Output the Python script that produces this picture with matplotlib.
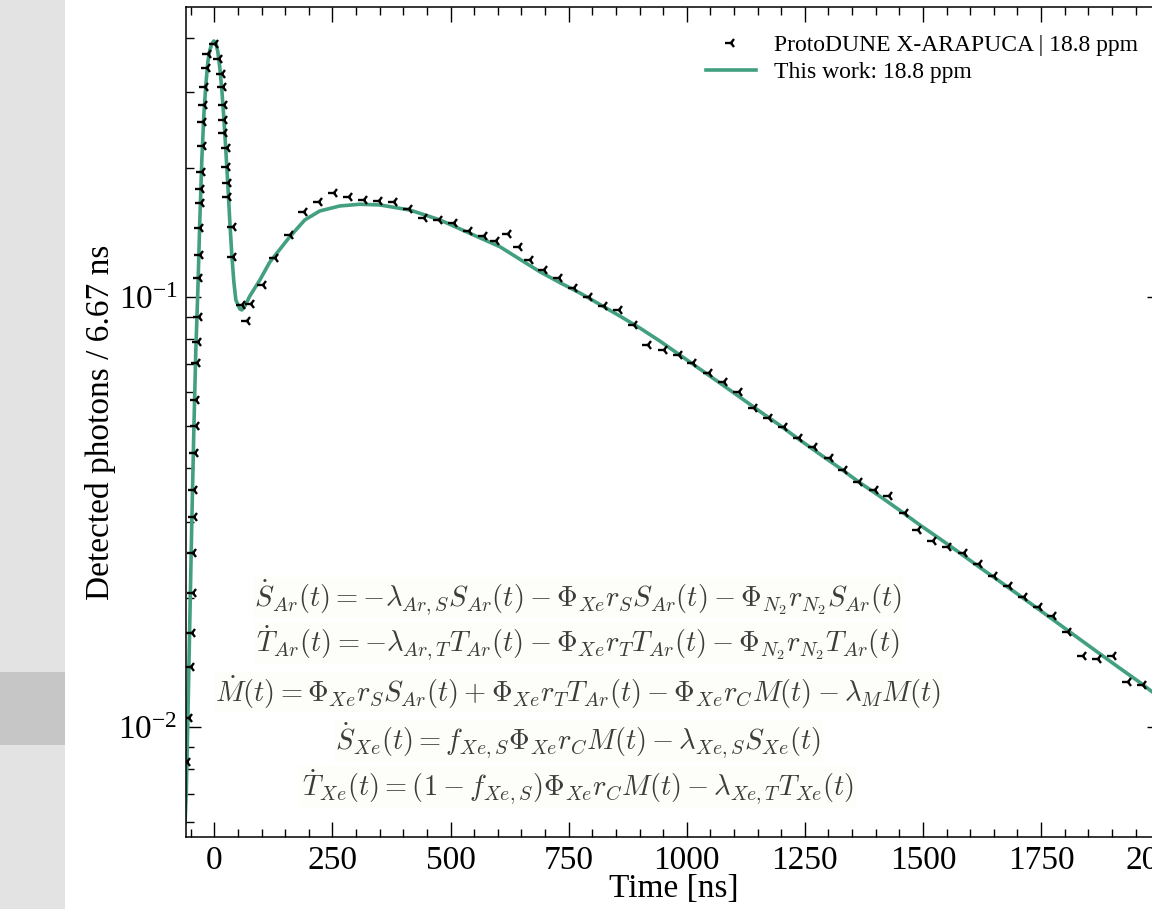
import matplotlib
matplotlib.use("Agg")
import matplotlib.pyplot as plt
from matplotlib.patches import Rectangle
from matplotlib.ticker import LogLocator, MultipleLocator

# ProtoDUNE X-ARAPUCA waveform (18.8 ppm Xe)
data_t = [-58.2, -54.0, -49.7, -47.6, -45.5, -44.5, -43.4, -42.3, -41.3, -39.2,
          -38.1, -37.0, -34.9, -32.8, -32.2, -30.7, -29.6, -28.6, -27.5, -26.5,
          -25.0, -23.7, -22.7, -20.1, -16.5, -14.4, 1.1, 10.2, 15.2, 17.4,
          20.1, 20.7, 21.2, 25.8, 26.2, 29.2, 29.6, 38.5, 39.8, 57.6,
          68.2, 76.6, 103.3, 128.7, 160.5, 190.1, 221.2, 253.0, 285.1, 317.1,
          348.6, 380.6, 412.4, 444.8, 475.9, 507.0, 538.7, 570.5, 595.9, 621.9,
          645.2, 667.9, 698.1, 729.3, 761.6, 793.4, 824.5, 856.3, 888.7, 918.3,
          951.5, 983.9, 1013.5, 1046.8, 1078.5, 1110.3, 1142.0, 1174.0, 1205.9, 1237.7,
          1269.1, 1303.1, 1333.4, 1364.9, 1398.2, 1427.8, 1461.7, 1489.8, 1521.6, 1552.1,
          1587.2, 1619.0, 1650.1, 1682.5, 1714.2, 1745.3, 1774.3, 1806.1, 1839.1, 1869.6,
          1902.6, 1934.4, 1966.1]
data_y = [0.00829, 0.01049, 0.01378, 0.01654, 0.02049, 0.02540, 0.03078, 0.03557, 0.04337, 0.05012,
          0.05761, 0.07024, 0.07860, 0.08984, 0.1107, 0.1252, 0.1447, 0.1654, 0.1783, 0.1956,
          0.2245, 0.2557, 0.2796, 0.3084, 0.3414, 0.3674, 0.3876, 0.3571, 0.3301, 0.3074,
          0.2796, 0.2580, 0.2411, 0.2217, 0.2009, 0.1838, 0.1711, 0.1453, 0.1241, 0.0958,
          0.0880, 0.0963, 0.1066, 0.1232, 0.1394, 0.1577, 0.1661, 0.1748, 0.1706, 0.1681,
          0.1672, 0.1661, 0.1606, 0.1526, 0.1513, 0.1484, 0.1426, 0.1389, 0.1352, 0.1401,
          0.1309, 0.1219, 0.1156, 0.1105, 0.1051, 0.1002, 0.0954, 0.0933, 0.0861, 0.0773,
          0.0753, 0.0733, 0.0704, 0.0665, 0.0635, 0.0602, 0.0553, 0.0523, 0.0498, 0.0471,
          0.0448, 0.0423, 0.0397, 0.0372, 0.0356, 0.0345, 0.0315, 0.0287, 0.0271, 0.0262,
          0.0254, 0.0239, 0.0224, 0.0213, 0.0201, 0.0190, 0.0181, 0.0166, 0.0146, 0.0144,
          0.0146, 0.0127, 0.0125]

# model curve ("This work")
model_t = [-62.0, -59.3, -56.1, -51.9, -47.6, -43.4, -39.2, -34.9, -30.7, -26.5,
           -22.2, -18.0, -13.8, -9.5, -5.3, -1.1, 3.2, 7.4, 11.6, 15.9,
           20.1, 24.3, 28.6, 32.8, 37.0, 41.3, 45.5, 54.0, 58.2, 64.6,
           75.1, 96.3, 117.5, 159.8, 191.6, 223.3, 265.7, 308.0, 350.3, 413.8,
           477.4, 540.9, 604.4, 646.7, 689.0, 731.4, 773.7, 816.0, 858.4, 900.7,
           943.0, 985.4, 1027.7, 1070.1, 1112.4, 1154.7, 1197.1, 1239.4, 1281.8, 1324.1,
           1366.4, 1408.8, 1451.1, 1493.4, 1535.8, 1578.1, 1620.4, 1662.8, 1705.1, 1747.4,
           1789.8, 1832.1, 1874.5, 1916.8, 1959.1, 2001.5]
model_y = [0.0060, 0.00713, 0.01038, 0.01774, 0.03030, 0.04905, 0.0753, 0.1038, 0.1511, 0.2083,
           0.2650, 0.3112, 0.3520, 0.3753, 0.3876, 0.3938, 0.3897, 0.3713, 0.3408, 0.3030,
           0.2608, 0.2197, 0.1821, 0.1494, 0.1252, 0.1084, 0.0984, 0.0938, 0.0933, 0.0953,
           0.1005, 0.1095, 0.1206, 0.1381, 0.1511, 0.1585, 0.1628, 0.1643, 0.1637, 0.1593,
           0.1511, 0.1406, 0.1309, 0.1224, 0.1145, 0.1080, 0.1022, 0.0961, 0.0903, 0.0847,
           0.0790, 0.0733, 0.0680, 0.0631, 0.0585, 0.0542, 0.0503, 0.0465, 0.0431, 0.0400,
           0.0370, 0.0344, 0.0319, 0.0295, 0.0274, 0.0254, 0.0235, 0.0218, 0.0202, 0.0187,
           0.0173, 0.0160, 0.0148, 0.0137, 0.0127, 0.0117]

equations = [
    r"$\dot{S}_{Ar}(t) = -\lambda_{Ar,S}S_{Ar}(t) - \Phi_{Xe}r_S S_{Ar}(t) - \Phi_{N_2}r_{N_2}S_{Ar}(t)$",
    r"$\dot{T}_{Ar}(t) = -\lambda_{Ar,T}T_{Ar}(t) - \Phi_{Xe}r_T T_{Ar}(t) - \Phi_{N_2}r_{N_2}T_{Ar}(t)$",
    r"$\dot{M}(t) = \Phi_{Xe}r_S S_{Ar}(t) + \Phi_{Xe}r_T T_{Ar}(t) - \Phi_{Xe}r_C M(t) - \lambda_M M(t)$",
    r"$\dot{S}_{Xe}(t) = f_{Xe,S}\Phi_{Xe}r_C M(t) - \lambda_{Xe,S}S_{Xe}(t)$",
    r"$\dot{T}_{Xe}(t) = (1 - f_{Xe,S})\Phi_{Xe}r_C M(t) - \lambda_{Xe,T}T_{Xe}(t)$",
]

plt.rcParams['font.family'] = ['Liberation Serif', 'DejaVu Serif']
plt.rcParams['mathtext.fontset'] = 'stix'

W, H = 1152, 909
fig = plt.figure(figsize=(W / 100, H / 100), dpi=100)

# grey slide background on the left
fig.patches.append(Rectangle((0, 0), 65 / W, 1, transform=fig.transFigure,
                             facecolor='#e3e3e3', edgecolor='none', zorder=-2))
fig.patches.append(Rectangle((0, 1 - 745 / H), 65 / W, 73 / H, transform=fig.transFigure,
                             facecolor='#c6c6c6', edgecolor='none', zorder=-1))

ax = fig.add_axes([186 / W, 1 - 837 / H, (1161.5 - 186) / W, (837 - 7) / H])

green = '#42a080'
ax.plot(model_t, model_y, color=green, lw=2.6, label='This work: 18.8 ppm', zorder=2)
ax.plot(data_t, data_y, ls='none', marker='3', ms=8, mew=1.7, color='black',
        label='ProtoDUNE X-ARAPUCA | 18.8 ppm', zorder=3)

ax.set_yscale('log')
ax.set_xlim(-60, 2005)
ax.set_ylim(0.00555, 0.4724)
ax.xaxis.set_major_locator(MultipleLocator(250))
ax.xaxis.set_minor_locator(MultipleLocator(50))
ax.yaxis.set_major_locator(LogLocator(base=10))
ax.yaxis.set_minor_locator(LogLocator(base=10, subs=range(2, 10)))

ax.tick_params(which='both', direction='in', top=True, right=True, labelsize=24, width=1)
ax.tick_params(which='major', length=11, pad=6)
ax.tick_params(which='minor', length=6)
for s in ax.spines.values():
    s.set_linewidth(1.1)

ax.set_xlabel('Time [ns]', fontsize=24, labelpad=-2)
ax.set_ylabel('Detected photons / 6.67 ns', fontsize=24, labelpad=2)

handles, labels = ax.get_legend_handles_labels()
ax.legend(handles[::-1], labels[::-1], loc='upper left', frameon=False, fontsize=17,
          bbox_to_anchor=(697 / W, 1 - 25 / H), bbox_transform=fig.transFigure,
          handlelength=2.1, handletextpad=0.75, labelspacing=0.25, borderaxespad=0)

eq_y = [598, 643, 692, 741, 787]
for txt, yy in zip(equations, eq_y):
    fig.text(578 / W, 1 - yy / H, txt, ha='center', va='center', fontsize=20.5,
             color='#3c3c3c', math_fontfamily='cm',
             bbox=dict(facecolor='#fdfdfa', edgecolor='none', pad=1))

fig.savefig('out.png', dpi=100)
